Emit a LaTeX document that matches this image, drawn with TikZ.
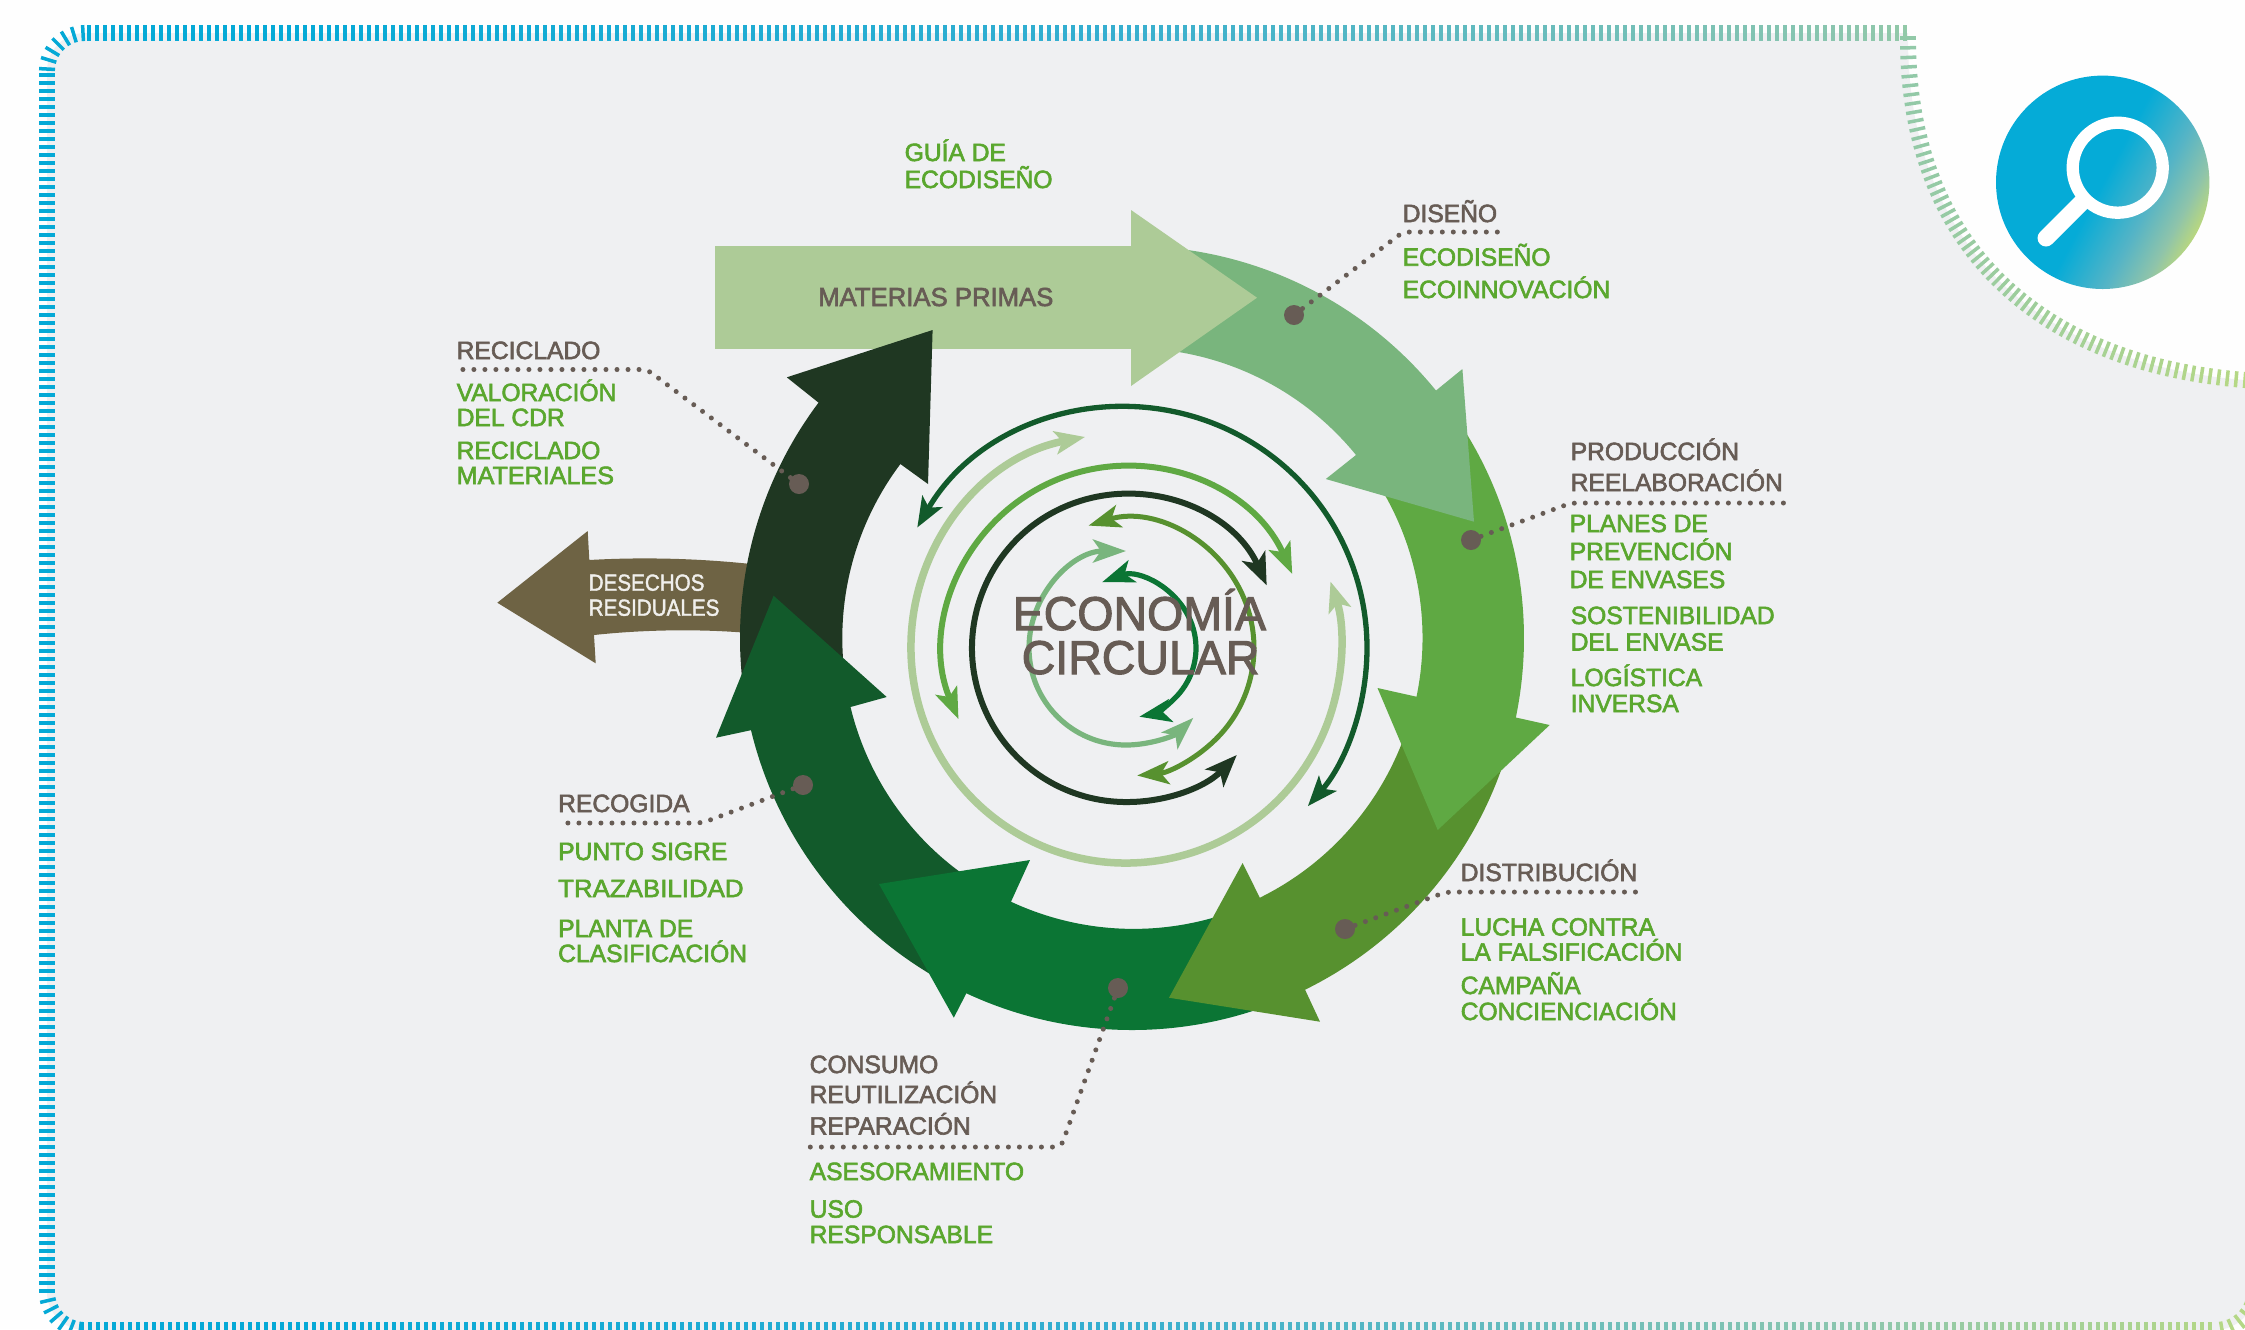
\documentclass[tikz,border=0pt]{standalone}
\usepackage{fontspec}
\setmainfont{Liberation Sans}
\newfontfamily\labf[FakeStretch=0.985,FakeBold=2.4]{Liberation Sans}
\newfontfamily\smlf[FakeStretch=0.885,FakeBold=1.6]{Liberation Sans}
\newfontfamily\bigf[FakeStretch=0.98,FakeBold=2.2]{Liberation Sans}
\usetikzlibrary{arrows.meta}
\definecolor{panel}{HTML}{EFF0F2}
\definecolor{txg}{HTML}{5AA72E}
\definecolor{txd}{HTML}{675C55}
\definecolor{rA}{HTML}{79B57D}
\definecolor{rB}{HTML}{5FA943}
\definecolor{rC}{HTML}{57912F}
\definecolor{rD}{HTML}{0B7534}
\definecolor{rE}{HTML}{125A2B}
\definecolor{rF}{HTML}{1F3722}
\definecolor{rM}{HTML}{ADCB97}
\definecolor{brn}{HTML}{6E6344}
\definecolor{magA}{HTML}{05ABD7}
\definecolor{magB}{HTML}{55B4C6}
\definecolor{magC}{HTML}{8FC4AA}
\definecolor{magD}{HTML}{B9D77F}
\pgfdeclarehorizontalshading{magshade}{100bp}{color(0bp)=(magA); color(50bp)=(magA); color(62bp)=(magB); color(70bp)=(magC); color(75bp)=(magD); color(100bp)=(magD)}
\newcommand\tkcol[1]{%
  \pgfmathsetmacro\ta{max(0,min(1,(#1-300)/800))}%
  \pgfmathsetmacro\tb{max(0,min(1,(#1-1100)/750))}%
  \pgfmathsetmacro\tc{max(0,min(1,(#1-1850)/395))}%
  \pgfmathsetmacro\cr{(5+48*\ta+87*\tb+42*\tc)/255}%
  \pgfmathsetmacro\cg{(169+5*\ta+24*\tb+18*\tc)/255}%
  \pgfmathsetmacro\cb{(214-6*\ta-34*\tb-42*\tc)/255}%
  \definecolor{tk}{rgb}{\cr,\cg,\cb}}
\tikzset{
  tick/.style={line width=0.035cm,color=tk},
  leader/.style={line width=0.05cm,txd,line cap=round,dash pattern=on 0pt off 0.11cm,rounded corners=0.06cm},
  pin/.style={circle,fill=txd,inner sep=0pt,minimum size=0.2cm},
  greenlab/.style={anchor=base west,inner sep=0pt,txg,font=\labf\fontsize{7.11}{8}\selectfont},
  graylab/.style={anchor=base west,inner sep=0pt,txd,font=\labf\fontsize{7.11}{8}\selectfont},
  biglab/.style={anchor=base west,inner sep=0pt,txd,font=\bigf\fontsize{13.5}{14}\selectfont},
  whitelab/.style={anchor=base west,inner sep=0pt,color=white!90!brn,font=\smlf\fontsize{6.63}{8}\selectfont},
  sp/.style={line width=#1*0.01cm}
}
\newcommand\GL[4]{\node[greenlab] (#1) at ({#2-1},{#3-1}) {#4};}
\newcommand\DL[4]{\node[graylab] (#1) at ({#2-1},{#3-1}) {#4};}
\begin{document}
\begin{tikzpicture}[x=0.01cm,y=-0.01cm]
\useasboundingbox (0,0) rectangle (2245,1329);
\clip (0,0) rectangle (2245,1329);
\fill[white!99.5!black] (0,0) rectangle (2245,1329);
% panel
\fill[panel] (47,71) arc[start angle=180,end angle=270,radius=38] -- (1908,33) -- (1908,38)
  .. controls (1908,255) and (2050,365) .. (2245,380) -- (2300,384) -- (2300,1290) -- (2255,1290)
  arc[start angle=0,end angle=90,radius=40] -- (85,1330)
  arc[start angle=90,end angle=180,radius=38] -- cycle;
% ticks
\foreach \x in {89,97,...,1905}{\tkcol{\x}\draw[tick] (\x,25) -- (\x,41);}
\tkcol{47}
\foreach \y in {75,83,...,1291}{\draw[tick] (39,\y) -- (55,\y);}
\foreach \a in {183,197,211,225,239,253,267}{\draw[tick] (85,71) ++(\a:30) -- ++(\a:16);}
\foreach \a in {97,111,125,139,153,167}{\draw[tick] (85,1292) ++(\a:30) -- ++(\a:16);}
\foreach \x in {82,90,...,2210}{\tkcol{\x}\draw[tick] (\x,1322) -- (\x,1338);}
\tkcol{2230}
\foreach \a in {10,24,38,52,66,80}{\draw[tick] (2215,1290) ++(\a:32) -- ++(\a:16);}
\foreach \i in {0,...,66}{
  \pgfmathsetmacro\t{\i/66}
  \pgfmathsetmacro\u{1-\t}
  \pgfmathsetmacro\bx{\u*\u*\u*1908+3*\u*\u*\t*1908+3*\u*\t*\t*2050+\t*\t*\t*2245}
  \pgfmathsetmacro\by{\u*\u*\u*38+3*\u*\u*\t*255+3*\u*\t*\t*365+\t*\t*\t*380}
  \pgfmathsetmacro\dx{3*\u*\u*0+6*\u*\t*142+3*\t*\t*195}
  \pgfmathsetmacro\dy{3*\u*\u*217+6*\u*\t*110+3*\t*\t*15}
  \pgfmathsetmacro\nn{veclen(\dx,\dy)}
  \tkcol{\bx}
  \draw[tick] ({\bx-8*\dy/\nn},{\by+8*\dx/\nn}) -- ({\bx+8*\dy/\nn},{\by-8*\dx/\nn});
}
% magnifier
\shade[shading=magshade,shading angle=-28] (2102.7,182.3) circle[radius=106.7];
\draw[white,line width=0.123cm] (2117.7,167.7) circle[radius=45];
\draw[white,line width=0.17cm,line cap=round] (2083,201) -- (2046,238);
% desechos arrow
\fill[brn] (497.3,602.7) -- (587.7,531) -- (589.3,560) .. controls (640,557) and (700,558) .. (760,565)
  -- (760,634) .. controls (700,628) and (640,630) .. (594,635) -- (595.7,663.3) -- cycle;
% materias shaft
\fill[rM] (715,246) rectangle (1135,349);
\coordinate (C) at (1132,638);
% ring
\fill[rF] (C) ++(172:392) arc[start angle=172,end angle=216.9,radius=392] -- (786.8,377.3) -- (932.6,330) -- (928,484) -- (900.4,464) arc[start angle=216.9,end angle=172,radius=290] -- cycle;
\fill[rE] (C) ++(120:392) arc[start angle=120,end angle=166.4,radius=392] -- (716,737.7) -- (773.6,595.7) -- (886.7,697) -- (850.5,707) arc[start angle=166.4,end angle=120,radius=290] -- cycle;
\fill[rD] (C) ++(68:392) arc[start angle=68,end angle=115,radius=392] -- (953.8,1017.7) -- (879,884) -- (1030,860) -- (1011,901.7) arc[start angle=115,end angle=68,radius=290] -- cycle;
\fill[rC] (C) ++(17:392) arc[start angle=17,end angle=63.8,radius=392] -- (1320,1021.7) -- (1169,997.7) -- (1242.6,863) -- (1259.8,897.7) arc[start angle=63.8,end angle=17,radius=290] -- cycle;
\fill[rB] (C) ++(-33:392) arc[start angle=-33,end angle=11.7,radius=392] -- (1549.7,725) -- (1437.7,830) -- (1377.5,688) -- (1416.5,696.7) arc[start angle=11.7,end angle=-33,radius=290] -- cycle;
\fill[rA] (C) ++(-90:392) arc[start angle=-90,end angle=-39.15,radius=392] -- (1462.4,369) -- (1474,521.7) -- (1325.8,479) -- (1356,455) arc[start angle=-39.15,end angle=-90,radius=290] -- cycle;
\fill[rM] (1131,210) -- (1257,297.7) -- (1131,386) -- cycle;
% spirals
\coordinate (S) at (1126,648);
\draw[rE,sp=5.3,{Stealth[length=0.3cm,width=0.23cm,inset=0.07cm]}-{Stealth[length=0.3cm,width=0.23cm,inset=0.07cm]}] (S) ++(-150:241) arc[start angle=-150,end angle=41,radius=241];
\draw[rM,sp=7.5,{Stealth[length=0.3cm,width=0.23cm,inset=0.07cm]}-{Stealth[length=0.3cm,width=0.23cm,inset=0.07cm]}] (S) ++(-101:215) arc[start angle=-101,end angle=-378,radius=215];
\draw[rB,sp=6,{Stealth[length=0.31cm,width=0.23cm,inset=0.07cm]}-{Stealth[length=0.31cm,width=0.23cm,inset=0.07cm]}] (S) ++(-24:182) arc[start angle=-24,end angle=-203,radius=182];
\draw[rF,sp=6,{Stealth[length=0.32cm,width=0.25cm,inset=0.08cm]}-{Stealth[length=0.32cm,width=0.25cm,inset=0.08cm]}] (S) ++(-24:154) arc[start angle=-24,end angle=-316,radius=154];
\draw[rC,sp=5,{Stealth[length=0.32cm,width=0.23cm,inset=0.08cm]}-{Stealth[length=0.32cm,width=0.23cm,inset=0.08cm]}] (S) ++(-107:128) arc[start angle=-107,end angle=85,radius=128];
\draw[rA,sp=5.2,{Stealth[length=0.33cm,width=0.23cm,inset=0.08cm]}-{Stealth[length=0.33cm,width=0.23cm,inset=0.08cm]}] (S) ++(-90:97) arc[start angle=-90,end angle=-314,radius=97];
\draw[rD,sp=5.2,{Stealth[length=0.32cm,width=0.23cm,inset=0.08cm]}-{Stealth[length=0.32cm,width=0.23cm,inset=0.08cm]}] (S) ++(-110:70) arc[start angle=-110,end angle=79,radius=70];
% pins
\node[pin] (pDis) at (1294,315) {};
\node[pin] (pPro) at (1471,540) {};
\node[pin] (pDib) at (1345,929) {};
\node[pin] (pCon) at (1118,988) {};
\node[pin] (pRec) at (803,785) {};
\node[pin] (pRcl) at (799,484) {};
% leaders
\coordinate (eDis) at (1508,232);
\coordinate (eRcl) at (457,369.5);
\coordinate (ePro) at (1789,503);
\coordinate (eDib) at (1642,892);
\coordinate (eCon) at (810,1147);
\coordinate (eRec) at (558,823);
\draw[leader] (pDis) -- (1403,232) -- (eDis);
\draw[leader] (pRcl) -- (647,369.5) -- (eRcl);
\draw[leader] (pPro) -- (1571,503) -- (ePro);
\draw[leader] (pDib) -- (1446,892) -- (eDib);
\draw[leader] (pCon) -- (1061,1147) -- (eCon);
\draw[leader] (pRec) -- (702,823) -- (eRec);
% labels
\GL{a1}{905}{162}{GUÍA DE}
\GL{a2}{905}{189}{ECODISEÑO}
\DL{b1}{1403}{223}{DISEÑO}
\GL{b2}{1403}{266.7}{ECODISEÑO}
\GL{b3}{1403}{299}{ECOINNOVACIÓN}
\DL{c1}{457}{360}{RECICLADO}
\GL{c2}{457}{402}{VALORACIÓN}
\GL{c3}{457}{427}{DEL CDR}
\GL{c4}{457}{460}{RECICLADO}
\GL{c5}{457}{485}{\scalebox{1.02}[1]{MATERIALES}}
\DL{d1}{1571}{461}{PRODUCCIÓN}
\DL{d2}{1571}{492}{REELABORACIÓN}
\GL{d3}{1570}{533}{PLANES DE}
\GL{d4}{1570}{561}{PREVENCIÓN}
\GL{d5}{1570}{589}{DE ENVASES}
\GL{d6}{1571}{625}{SOSTENIBILIDAD}
\GL{d7}{1571}{651.5}{DEL ENVASE}
\GL{d8}{1571}{687}{LOGÍSTICA}
\GL{d9}{1571}{713}{INVERSA}
\DL{e1}{1461}{882}{DISTRIBUCIÓN}
\GL{e2}{1461}{936.5}{LUCHA CONTRA}
\GL{e3}{1461}{961.5}{LA FALSIFICACIÓN}
\GL{e4}{1461}{995}{CAMPAÑA}
\GL{e5}{1461}{1021}{CONCIENCIACIÓN}
\DL{f1}{810}{1074}{CONSUMO}
\DL{f2}{810}{1104}{REUTILIZACIÓN}
\DL{f3}{810}{1135.5}{REPARACIÓN}
\GL{f4}{810}{1181}{ASESORAMIENTO}
\GL{f5}{810}{1218.6}{USO}
\GL{f6}{810}{1244}{RESPONSABLE}
\DL{g1}{558.5}{813}{RECOGIDA}
\GL{g2}{558.5}{861}{PUNTO SIGRE}
\GL{g3}{558.5}{898}{\scalebox{1.05}[1]{TRAZABILIDAD}}
\GL{g4}{558.5}{938}{PLANTA DE}
\GL{g5}{558.5}{963}{CLASIFICACIÓN}
\node[graylab,font=\labf\fontsize{7.42}{9}\selectfont] (h1) at (817.5,306) {MATERIAS PRIMAS};
\node[whitelab] (i1) at (588,590.7) {DESECHOS};
\node[whitelab] (i2) at (588,615.7) {RESIDUALES};
\node[biglab] (j1) at (1012,630) {ECONOMÍA};
\node[biglab] (j2) at (1021,674) {CIRCULAR};
\end{tikzpicture}
\end{document}
